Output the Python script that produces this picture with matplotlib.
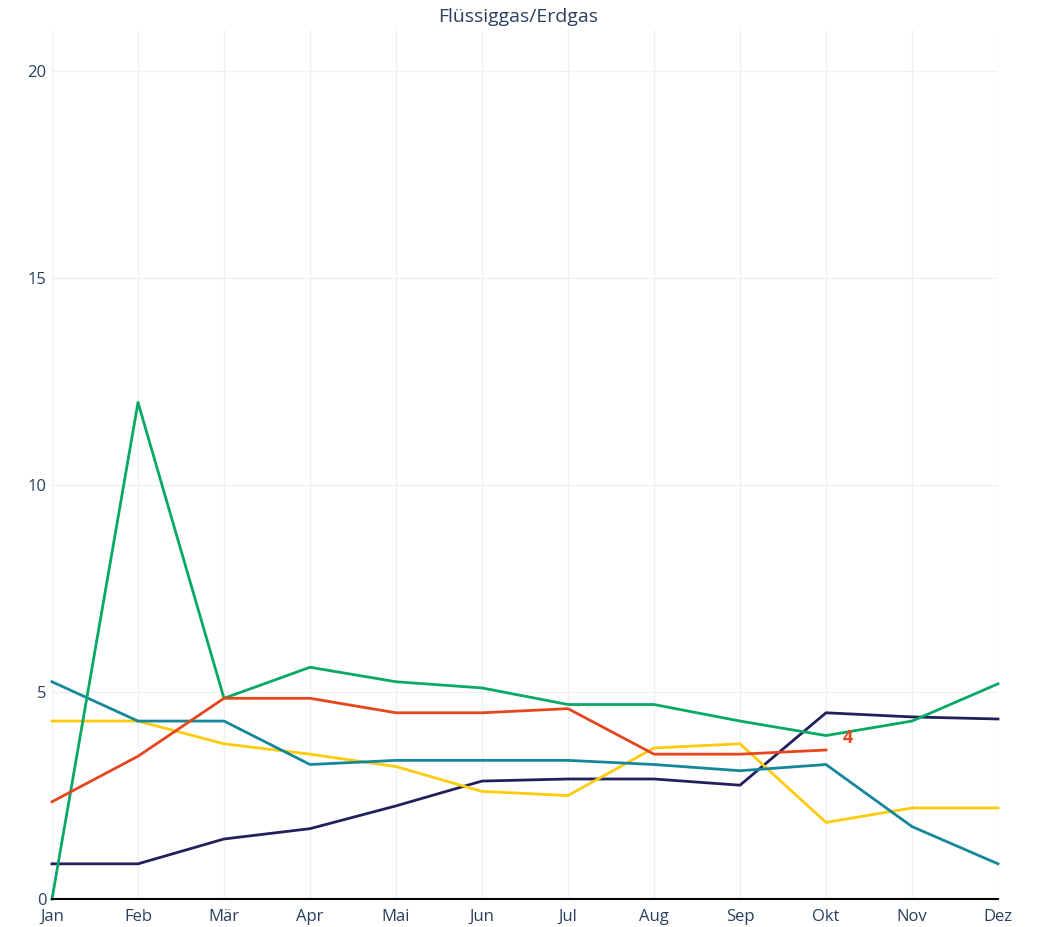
import matplotlib
matplotlib.use('Agg')
import matplotlib.pyplot as plt

# Data
months = ['Jan', 'Feb', 'Mär', 'Apr', 'Mai', 'Jun', 'Jul', 'Aug', 'Sep', 'Okt', 'Nov', 'Dez']
green = [0, 12, 4.85, 5.6, 5.25, 5.1, 4.7, 4.7, 4.3, 3.95, 4.3, 5.2]
teal = [5.25, 4.3, 4.3, 3.25, 3.35, 3.35, 3.35, 3.25, 3.1, 3.25, 1.75, 0.85]
red = [2.35, 3.45, 4.85, 4.85, 4.5, 4.5, 4.6, 3.5, 3.5, 3.6]
yellow = [4.3, 4.3, 3.75, 3.5, 3.2, 2.6, 2.5, 3.65, 3.75, 1.85, 2.2, 2.2]
navy = [0.85, 0.85, 1.45, 1.7, 2.25, 2.85, 2.9, 2.9, 2.75, 4.5, 4.4, 4.35]
red_label = '4'

text_col = '#2a3f5f'
plt.rcParams['font.family'] = ['Open Sans', 'DejaVu Sans']

fig = plt.figure(figsize=(10.37, 9.27), dpi=100)
ax = fig.add_axes([52 / 1037, 28 / 927, 946 / 1037, 869 / 927])

x = list(range(len(months)))
lw = 2.0
ax.plot(x, navy, color='#22205c', lw=lw, clip_on=False)
ax.plot(x, yellow, color='#fdcb0a', lw=lw, clip_on=False)
ax.plot(x, teal, color='#14889a', lw=lw, clip_on=False)
ax.plot(x, green, color='#08a866', lw=lw, clip_on=False)
ax.plot(x[:len(red)], red, color='#e6461e', lw=lw, clip_on=False)

ax.annotate(red_label, (x[len(red) - 1], red[-1]), xytext=(12, 9),
            textcoords='offset points', color='#e6461e', fontsize=13,
            fontweight='bold', ha='left', va='center')

ax.set_xlim(0, 11)
ax.set_ylim(0, 21)
ax.set_xticks(x)
ax.set_xticklabels(months)
ax.set_yticks([0, 5, 10, 15, 20])
ax.tick_params(colors=text_col, labelsize=12, length=0)
ax.tick_params(axis='x', pad=7)
ax.tick_params(axis='y', pad=4)
ax.grid(True, color='#eef0f6', lw=1)
ax.set_axisbelow(True)
for s in ['top', 'right', 'left']:
    ax.spines[s].set_visible(False)
ax.spines['bottom'].set_color('black')
ax.spines['bottom'].set_linewidth(1.5)

fig.text(0.5, 1 - 17 / 927, 'Flüssiggas/Erdgas', ha='center', va='center',
         color=text_col, fontsize=14)

fig.savefig('out.png', dpi=100, facecolor='white')
